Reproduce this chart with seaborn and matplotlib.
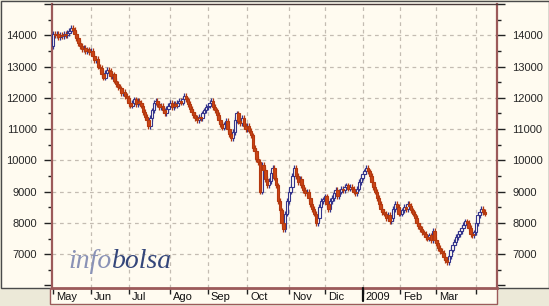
import numpy as np
import matplotlib
matplotlib.use("Agg")
import matplotlib.pyplot as plt
import matplotlib.transforms as mtransforms
from matplotlib.patches import Rectangle
import seaborn as sns

# ---- data: daily closes (IBEX style index) per month, trading-day axis ----
first_open = 13650
may08 = [14050, 14000, 14050, 13950, 14000, 13980, 14050, 14000, 14080, 14150,
         14230, 14180, 14050, 13900, 13750, 13650, 13550, 13600, 13500, 13550, 13450]
jun08 = [13500, 13350, 13200, 13250, 13000, 12950, 12750, 12650, 12800, 12900,
         12850, 12700, 12750, 12550, 12450, 12350, 12300, 12150, 12200, 12050, 12000]
jul08 = [11850, 11750, 11850, 11950, 11800, 11900, 11850, 11750, 11550, 11400,
         11300, 11100, 11350, 11600, 11850, 11900, 11800, 11700, 11750, 11600,
         11500, 11650, 11750]
aug08 = [11850, 11700, 11800, 11750, 11850, 11900, 11850, 11950, 12050, 11950,
         11800, 11650, 11550, 11450, 11350, 11300, 11400, 11350, 11500, 11600, 11700]
sep08 = [11750, 11850, 11900, 11700, 11600, 11450, 11300, 11150, 11050, 11150,
         11250, 11000, 10850, 10700, 10900, 11300, 11500, 11250, 11200, 11350,
         11100, 11000]
oct08 = [11100, 10950, 10800, 10400, 10300, 10050, 9950, 9000, 9850, 9700,
         9400, 9200, 9350, 9600, 9750, 9450, 9200, 8700, 8400, 8000,
         7800, 8300, 8700]
nov08 = [9000, 9150, 9500, 9750, 9500, 9300, 9400, 9200, 9050, 8950,
         9000, 8800, 8600, 8450, 8300, 8000, 8150, 8500, 8700, 8750]
dec08 = [8850, 8600, 8450, 8700, 8800, 8950, 9050, 8850, 9000, 9100,
         9050, 9150, 9200, 9100, 9150, 9100, 9000, 8950, 9100, 9300, 9450]
jan09 = [9550, 9650, 9750, 9650, 9500, 9300, 9150, 9000, 8800, 8600,
         8450, 8350, 8300, 8150, 8250, 8050, 8150, 8450, 8600, 8500, 8300]
feb09 = [8300, 8400, 8500, 8450, 8600, 8550, 8400, 8300, 8150, 8000,
         7900, 7800, 7700, 7650, 7550, 7500, 7600, 7450, 7750, 7450]
mar09 = [7350, 7200, 7100, 7050, 6900, 6800, 6750, 6950, 7150, 7300,
         7400, 7550, 7650, 7750, 7850, 7950, 8050, 8000, 7850, 7650,
         7600, 7700]
apr09 = [8000, 8250, 8350, 8450, 8350, 8300]

month_closes = [may08, jun08, jul08, aug08, sep08, oct08, nov08, dec08,
                jan09, feb09, mar09, apr09]
month_labels = ["May", "Jun", "Jul", "Ago", "Sep", "Oct", "Nov", "Dic",
                "2009", "Feb", "Mar", ""]
y_major = [6000, 7000, 8000, 9000, 10000, 11000, 12000, 13000, 14000, 15000]
y_labels = ["", "7000", "8000", "9000", "10000", "11000", "12000", "13000",
            "14000", ""]
wick = 90

# ---- style ----
cream = "#fffbf0"
gray = "#ece9d8"
blue = "#34348c"
red_fill = "#cc4515"
red_edge = "#b3380f"
axis_col = "#9c5a5a"

sns.set_style("white", {"axes.facecolor": cream})
plt.rcParams["font.family"] = ["Liberation Sans", "DejaVu Sans"]

fig = plt.figure(figsize=(5.49, 3.06), dpi=100, facecolor=gray)
W, H = 549, 306

def fx(px):
    return px / W

def fy(py):
    return (H - py) / H

# cream panel + label strip (behind the axes)
fig.patches.append(Rectangle((fx(0.5), fy(288)), fx(548), fy(0.5) - fy(288),
                             transform=fig.transFigure, facecolor=cream,
                             edgecolor="#4a4a4a", lw=1.0, zorder=-10))
fig.patches.append(Rectangle((fx(50), fy(304)), fx(497) - fx(50), fy(288) - fy(304),
                             transform=fig.transFigure, facecolor=cream,
                             edgecolor=axis_col, lw=1.0, zorder=-10))

ax = fig.add_axes([fx(52), fy(288), fx(497) - fx(52), fy(4) - fy(288)])
ax.set_facecolor(cream)
ax.set_zorder(1)

close = np.array([v for m in month_closes for v in m], dtype=float)
open_ = np.r_[first_open, close[:-1]]
idx = np.arange(len(close))
up = close >= open_
hi = np.maximum(open_, close) + wick
lo = np.minimum(open_, close) - wick

ax.vlines(idx[up], lo[up], hi[up], color=blue, lw=0.9, zorder=3)
ax.vlines(idx[~up], lo[~up], hi[~up], color=red_edge, lw=0.9, zorder=3)
ax.bar(idx[up], (close - open_)[up], bottom=open_[up], width=1.4,
       facecolor=cream, edgecolor=blue, lw=0.8, zorder=4)
ax.bar(idx[~up], (close - open_)[~up], bottom=open_[~up], width=1.4,
       facecolor=red_fill, edgecolor=red_edge, lw=0.8, zorder=4)

ax.set_xlim(-0.6, 246.7)
ax.set_ylim(5920, 15000)

# month positions
starts = np.cumsum([0] + [len(m) for m in month_closes[:-1]])

# grid
for s in starts[1:]:
    ax.axvline(s, color="#c4bcb2", lw=0.9, ls=(0, (3, 3)), zorder=1)
for v in y_major[1:-1]:
    ax.axhline(v, color="#c4bcb2", lw=0.9, ls=(0, (3, 3)), zorder=1)

# y axis both sides
ax.set_yticks(y_major)
ax.set_yticklabels(y_labels)
ax.set_yticks(np.arange(6500, 15000, 1000), minor=True)
ax.tick_params(axis="y", which="major", direction="out", length=6, width=1,
               color="#222222", labelsize=8, pad=5, left=True, right=True,
               labelleft=True, labelright=True)
ax.tick_params(axis="y", which="minor", direction="out", length=3, width=1,
               color="#222222", left=True, right=True)

# x axis
ax.set_xticks(starts)
ax.set_xticklabels([])
ax.tick_params(axis="x", which="major", direction="out", length=4, width=1,
               color="#222222", bottom=True)
trans = mtransforms.blended_transform_factory(ax.transData, ax.transAxes)
for s, lab in zip(starts, month_labels):
    if lab:
        ax.text(s + 1.6, -0.032, lab, transform=trans, ha="left", va="center",
                fontsize=8, color="#111111", clip_on=False)
jan_pos = starts[month_labels.index("2009")]
ax.plot([jan_pos, jan_pos], [0, -0.045], transform=trans, color="#111111",
        lw=1.6, clip_on=False, zorder=5)

for side in ["left", "right"]:
    ax.spines[side].set_color(axis_col)
    ax.spines[side].set_linewidth(1.6)
ax.spines["top"].set_color("#4a3a3a")
ax.spines["top"].set_linewidth(1.0)
ax.spines["bottom"].set_color(axis_col)
ax.spines["bottom"].set_linewidth(2.0)

# watermark
wm_font = ["Liberation Serif", "DejaVu Serif"]
t1 = fig.text(fx(68), fy(268), "info", fontsize=20, style="italic",
              family=wm_font, color="#8a92b6", va="baseline", ha="left",
              zorder=2)
ax.annotate("bolsa", xy=(1, 0), xycoords=t1, xytext=(0.5, 0),
            textcoords="offset points", fontsize=20, style="italic",
            family=wm_font, color="#34467a", va="bottom", ha="left",
            annotation_clip=False, zorder=2)

fig.savefig("out.png", dpi=100, facecolor=gray)
